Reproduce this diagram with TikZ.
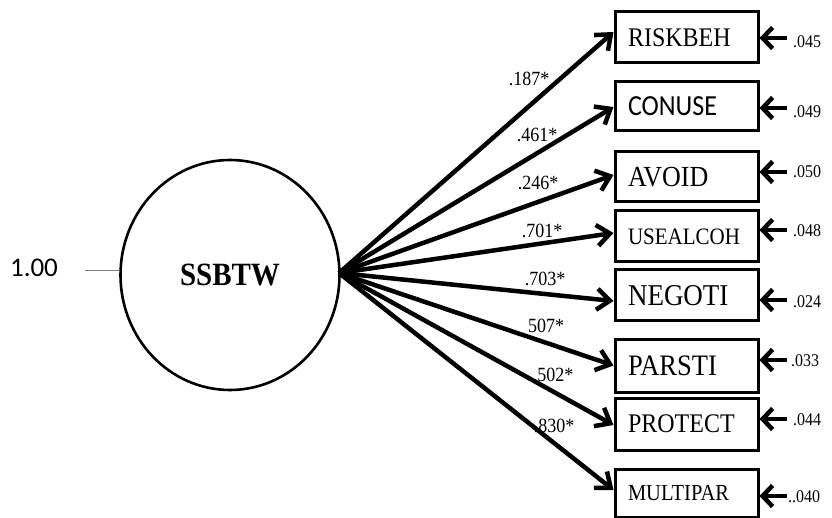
\documentclass[tikz,border=0pt]{standalone}
\usepackage{fontspec}
\usepackage{graphicx}
\setmainfont{Liberation Serif}
\newfontfamily\calibrifont{Carlito}
\usetikzlibrary{arrows.meta,calc,shapes.geometric}
\newcommand{\talltxt}[2]{\scalebox{1}[1.12]{\fontsize{#1}{#1}\selectfont #2}}
\begin{document}
\begin{tikzpicture}[x=1pt,y=-1pt,
  latent/.style={ellipse, draw, line width=2.6pt, minimum width=219pt,
    minimum height=230pt, inner sep=0pt},
  obsbox/.style={rectangle, draw, line width=3pt, minimum width=143pt,
    text width=117pt, align=left, inner xsep=13pt, inner ysep=0pt},
  load/.style={line width=4.5pt, -{Straight Barb[length=13pt,width=21pt]}},
  errarr/.style={line width=4.5pt, -{Straight Barb[length=10pt,width=21pt]}},
  coef/.style={inner sep=0pt},
  errlab/.style={anchor=west, inner sep=0pt},
  varline/.style={draw=gray, line width=1pt},
]
\path[use as bounding box] (0,0) rectangle (832,518);

% latent factor and its fixed variance
\node[latent] (ssbtw) at (230,275) {\talltxt{29}{\textbf{SSBTW}}};
\node[inner sep=0pt, font=\calibrifont\fontsize{27}{27}\selectfont] (var) at (34,268) {1.00};
\coordinate (v0) at (85,271);
\draw[varline] (v0) -- (ssbtw.west |- v0);

% observed indicators
\node[obsbox, minimum height=51pt] (risk)  at (686.5,37.5)  {\talltxt{24}{RISKBEH}};
\node[obsbox, minimum height=49pt] (conuse) at (686.5,106.5) {\talltxt{26}{\calibrifont CONUSE}};
\node[obsbox, minimum height=50pt] (avoid) at (686.5,177)   {\talltxt{26}{AVOID}};
\node[obsbox, minimum height=51pt] (usealc) at (686.5,236.5) {\talltxt{21}{USEALCOH}};
\node[obsbox, minimum height=51pt] (negoti) at (686.5,295.5) {\talltxt{27}{NEGOTI}};
\node[obsbox, minimum height=53pt] (parsti) at (686.5,365.5) {\talltxt{26.5}{PARSTI}};
\node[obsbox, minimum height=52pt] (protect) at (686.5,424)  {\talltxt{24}{PROTECT}};
\node[obsbox, minimum height=48pt] (multipar) at (686.5,493) {\talltxt{20.5}{MULTIPAR}};

% factor loadings
\coordinate (hub) at (339,273);
\draw[load] (hub) -- ($(risk.west)+(0,-5.5)$);
\draw[load] (hub) -- ($(conuse.west)+(0,0.5)$);
\draw[load] (hub) -- ($(avoid.west)+(0,-2)$);
\draw[load] (hub) -- ($(usealc.west)+(0,-3.5)$);
\draw[load] (hub) -- ($(negoti.west)+(0,5.5)$);
\draw[load] (hub) -- ($(parsti.west)+(0,0)$);
\draw[load] (hub) -- ($(protect.west)+(0,1)$);
\draw[load] (hub) -- ($(multipar.west)+(0,-3)$);

\node[coef] (c1) at (529,79)  {\talltxt{18}{.187*}};
\node[coef] (c2) at (537,135) {\talltxt{18}{.461*}};
\node[coef] (c3) at (538,183) {\talltxt{18}{.246*}};
\node[coef] (c4) at (542,231) {\talltxt{18}{.701*}};
\node[coef] (c5) at (545,279) {\talltxt{18}{.703*}};
\node[coef] (c6) at (546,326) {\talltxt{18}{507*}};
\node[coef] (c7) at (553,375) {\talltxt{18}{.502*}};
\node[coef] (c8) at (554,426) {\talltxt{18}{.830*}};

% residual variances
\coordinate (e1) at (787,38);
\coordinate (e2) at (787,108);
\coordinate (e3) at (787,172);
\coordinate (e4) at (787,230);
\coordinate (e5) at (787,300);
\coordinate (e6) at (787,360);
\coordinate (e7) at (787,419);
\coordinate (e8) at (787,496);
\draw[errarr] (e1) -- (risk.east |- e1);
\draw[errarr] (e2) -- (conuse.east |- e2);
\draw[errarr] (e3) -- (avoid.east |- e3);
\draw[errarr] (e4) -- (usealc.east |- e4);
\draw[errarr] (e5) -- (negoti.east |- e5);
\draw[errarr] (e6) -- (parsti.east |- e6);
\draw[errarr] (e7) -- (protect.east |- e7);
\draw[errarr] (e8) -- (multipar.east |- e8);

\node[errlab] (r1) at (793,42)  {\talltxt{16}{.045}};
\node[errlab] (r2) at (793,112) {\talltxt{16}{.049}};
\node[errlab] (r3) at (793,172) {\talltxt{16}{.050}};
\node[errlab] (r4) at (793,231) {\talltxt{16}{.048}};
\node[errlab] (r5) at (793,302) {\talltxt{16}{.024}};
\node[errlab] (r6) at (791,361) {\talltxt{16}{.033}};
\node[errlab] (r7) at (793,420) {\talltxt{16}{.044}};
\node[errlab] (r8) at (788,497) {\talltxt{16}{..040}};
\end{tikzpicture}
\end{document}
